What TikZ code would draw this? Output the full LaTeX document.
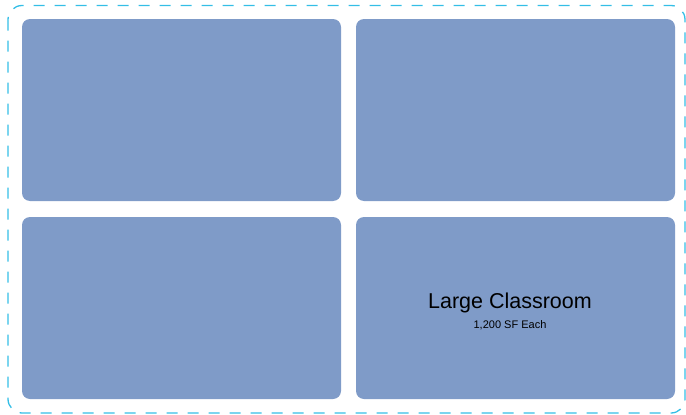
\documentclass[tikz,border=0pt]{standalone}
\usepackage{fontspec}
\setmainfont{Liberation Sans}
\definecolor{roomblue}{RGB}{127,155,200}
\definecolor{bordercyan}{RGB}{52,190,230}
\begin{document}
\begin{tikzpicture}[x=1pt,y=-1pt,
  room/.style={fill=roomblue,draw=none,rounded corners=8pt},
  frame/.style={draw=bordercyan,line width=1.3pt,dash pattern=on 11pt off 10pt,rounded corners=14pt}]
\useasboundingbox (0,0) rectangle (686,415);
\draw[frame] (8,5.5) rectangle (685,413);
\path[room] (22,19) rectangle (341,201);
\path[room] (356,19) rectangle (675,201);
\path[room] (22,217) rectangle (341,399);
\path[room] (356,217) rectangle (675,399);
\node[font=\fontsize{21.5}{25}\selectfont,inner sep=0pt] (t1) at (510,303) {Large Classroom};
\node[font=\fontsize{11}{13}\selectfont,inner sep=0pt] (t2) at (510,325.5) {1,200 SF Each};
\end{tikzpicture}
\end{document}
